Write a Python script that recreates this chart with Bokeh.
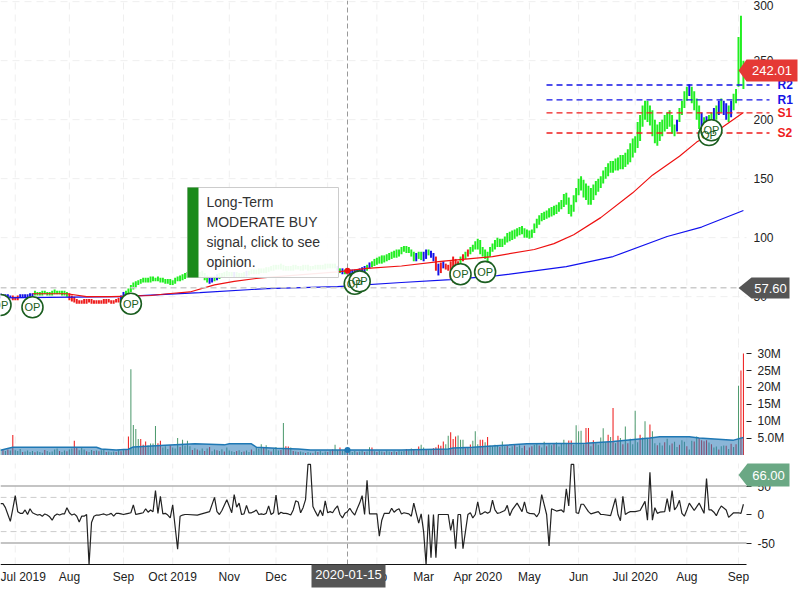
from bokeh.plotting import figure
from bokeh.embed import file_html
from bokeh.resources import INLINE
from bokeh.models import Range1d, LinearAxis, FixedTicker
from bokeh.core.properties import value

# ---------- data ----------
tick_days = [6, 28, 50, 70, 93, 112, 133, 153, 172, 194, 215, 235, 258, 279, 300]
tick_names = ["Jul 2019", "Aug", "Sep", "Oct 2019", "Nov", "Dec", "Jan", "Feb", "Mar", "Apr 2020",
              "May", "Jun", "Jul 2020", "Aug", "Sep"]
price_ticks = [50, 100, 150, 200, 250, 300]
vol_ticks = [5, 10, 15, 20, 25, 30]
vol_tick_names = ["5.0M", "10M", "15M", "20M", "25M", "30M"]
osc_ticks = [-50, 0, 50]

even_low = [49,49,49,47,49,49,50,51,51,52,51,52,52,51,47,45,44,44,45,44,44,44,45,44,45,47,51,56,60,62,
           62,63,63,62,61,60,63,64,66,68,66,67,62,62,64,66,67,67,66,66,67,69,69,70,70,72,73,73,72,72,
           73,72,73,72,73,73,73,74,74,70,69,69,69,70,71,74,76,78,79,81,83,84,88,87,80,82,80,85,80,68,
           74,72,62,70,80,84,88,90,84,80,88,92,92,96,98,101,103,100,100,108,114,116,118,120,124,128,
           118,130,140,132,128,136,142,150,155,157,158,160,164,172,182,200,195,180,182,190,194,186,
           198,210,220,208,192,188,192,198,204,204,198,208]
even_high = [53,52,51,50,52,52,53,55,54,55,54,56,55,55,53,50,47,48,48,47,47,48,48,47,49,54,57,62,64,66,
            66,67,67,66,65,64,67,69,71,72,71,72,68,67,69,70,72,71,71,70,72,73,73,74,75,76,77,78,76,76,
            77,76,77,76,77,77,78,78,78,74,73,73,73,74,76,79,82,84,85,87,89,90,93,92,88,88,88,90,87,78,
            80,77,84,80,86,90,94,99,92,88,95,100,99,104,106,108,110,107,107,116,121,123,126,128,132,138,
            128,142,152,146,142,148,152,160,165,167,170,172,180,186,204,216,212,200,198,204,208,196,
            210,224,230,224,212,202,204,210,216,216,212,222]
even_state = ("bbbrbbbggggggg" + "rrrrrrrrrrr" + "b" + "g" * 17 + "bb" + "ggggg" + "b" + "g" * 20
             + "bbbbb" + "g" * 10 + "bgbbb" + "rrrrr" + "g" * 44 + "b" + "g" * 4 + "bbb" + "gg" + "bb" + "g")
odd_low = [49,49,47,47,49,49,50,51,51,51,51,52,51,50,46,44,44,44,44,44,44,44,44,45,46,
           49,54,58,61,62,62,63,62,61,60,61,63,65,67,67,66,64,61,63,65,66,67,66,66,66,
           68,69,69,70,71,72,73,72,72,72,73,72,72,73,73,73,74,74,72,69,69,69,70,70,72,
           75,77,78,80,82,83,86,87,84,80,81,82,83,72,70,73,65,64,75,82,86,90,86,82,84,
           90,92,94,97,99,102,100,99,104,111,115,117,119,122,126,120,122,136,134,128,132,139,146,152,155,
           157,158,162,168,176,194,198,186,178,186,192,188,190,204,216,214,200,190,190,194,200,206,200,202,214]
odd_high = [52,52,51,51,52,52,53,54,55,54,55,55,55,54,51,48,47,48,48,47,47,48,47,48,51,
            55,60,63,65,66,67,66,66,65,65,66,68,70,71,72,71,70,67,68,70,71,71,71,70,71,
            72,73,74,74,75,77,77,77,76,77,76,77,77,76,77,77,78,78,76,74,72,73,73,75,77,
            80,83,85,86,88,90,92,93,90,87,88,90,89,84,79,78,80,82,84,88,92,97,98,90,92,
            98,99,101,105,107,109,108,106,112,119,122,125,127,130,137,134,136,150,149,144,145,150,157,163,165,
            168,170,175,184,198,212,216,208,196,200,206,204,200,216,228,228,218,206,203,206,212,218,214,216,226]
odd_state = ("bbrrbbb" + "g" * 7 + "r" * 10 + "b" + "g" * 17 + "b" + "g" * 4 + "b" + "gg"
             + "g" * 18 + "b" * 6 + "g" + "g" * 9 + "bgbb" + "r" * 5 + "g" * 7 + "g" * 25
             + "g" * 11 + "gbgggg" + "bb" + "ggg" + "bb" + "g")
spike_day = [300, 301, 302]
spike_low = [228, 240, 226]
spike_high = [270, 288, 250]

ma_long_day = [0, 49, 81, 108, 137, 163, 183, 202, 230, 249, 271, 285, 302]
ma_long = [49, 50, 53.4, 56.8, 58.5, 62, 64.4, 67.8, 75.4, 84, 101, 109, 123]
ma_mid_day = [13, 27, 35, 45, 61, 68, 77, 87, 95, 106, 137, 149, 163, 179, 200, 217, 225, 233, 244,
              257, 265, 276, 283, 293, 302]
ma_mid = [52.5, 52.5, 50, 50, 51, 52.5, 54, 60, 63, 66, 71, 74, 76, 80, 84, 90, 95, 102.5, 117,
          138, 153, 169, 181, 193, 206]

pivot_names = ["R2", "R1", "S1", "S2"]
pivot_values = [229.4, 216.7, 205.7, 188.7]
pivot_colors = ["#1414e6", "#1414e6", "#ee1c1c", "#ee1c1c"]

op_day = [0, 13, 53, 144, 146, 187, 197, 288, 289]
op_price = [43, 41, 44, 61, 63, 69, 71, 187, 191]

volume = [1.9,1.6,1.2,1.6,1.3,5.9,1.4,1.2,1.8,0.9,
          1.0,1.3,0.9,1.2,0.8,1.1,0.9,0.7,1.5,1.2,
          0.8,1.0,1.6,1.9,1.2,0.9,1.3,1.1,1.6,1.9,
          4.2,2.1,1.4,2.4,1.6,1.1,0.9,1.5,1.2,1.3,
          1.1,1.4,1.8,0.9,1.0,0.8,1.0,0.9,1.4,1.1,
          1.4,1.6,5.5,25.4,8.9,7.7,4.7,4.7,3.0,4.0,
          2.8,3.4,3.4,8.6,3.5,4.2,2.2,2.6,1.8,2.9,
          2.2,1.9,5.0,2.4,4.5,2.8,4.2,2.6,1.5,2.0,
          1.6,1.3,1.9,1.2,1.9,2.4,1.1,1.6,1.4,1.2,
          1.7,1.0,2.2,1.3,1.1,0.9,1.2,1.4,0.9,1.0,
          1.3,0.9,1.6,1.1,2.2,1.9,3.2,2.4,2.9,1.4,
          1.0,1.8,2.4,1.3,1.5,9.5,2.6,2.5,2.2,1.2,
          1.0,0.9,1.0,0.8,0.6,0.9,0.7,0.5,1.1,0.9,
          1.2,0.7,1.0,0.9,1.3,1.6,3.0,1.4,2.2,1.3,
          1.6,1.0,1.3,0.9,1.2,0.8,1.0,1.3,0.9,1.0,
          2.3,2.2,1.1,0.9,1.2,1.0,0.8,1.3,1.0,0.9,
          1.1,0.9,1.3,1.0,1.2,1.8,1.4,1.9,1.7,1.3,
          2.5,3.0,2.2,1.5,1.4,1.7,2.0,2.3,3.0,2.7,
          4.0,3.2,5.7,6.7,4.7,5.5,5.8,4.5,4.5,2.0,
          2.4,3.1,4.2,7.0,3.2,4.5,4.5,3.8,5.3,2.8,
          2.6,3.0,2.7,2.4,4.0,2.6,2.7,2.1,2.6,3.0,
          2.4,2.9,2.1,2.7,1.4,2.2,2.6,3.0,3.3,2.8,
          2.2,3.9,2.6,3.2,2.9,3.3,3.7,2.5,3.5,4.5,
          3.4,4.3,4.3,3.0,8.8,7.0,7.2,3.2,8.0,8.0,
          2.6,4.4,3.5,3.0,5.2,7.9,3.8,6.0,5.3,13.9,
          3.5,5.7,5.0,3.2,8.4,3.5,4.8,3.2,13.1,3.8,
          6.0,5.2,10.0,4.8,9.0,7.0,3.5,2.9,3.6,2.8,
          3.8,4.8,2.9,3.4,3.9,2.4,3.0,4.4,3.9,2.6,
          1.6,4.2,4.0,5.5,5.0,4.4,4.1,4.4,3.7,3.2,
          2.2,2.5,1.6,2.6,2.8,2.7,1.8,3.3,2.4,3.2,
          20.5,25.0,30.0]
red_volume_days = [1,3,5,9,14,18,24,27,30,31,35,38,40,43,47,49,51,52,57,58,59,64,65,69,73,78,80,83,85,88,
                   91,96,99,102,107,110,114,116,117,119,121,124,127,129,133,135,138,141,145,148,151,153,
                   156,159,161,165,168,170,173,176,177,178,179,180,183,184,185,189,191,195,196,198,203,
                   206,209,213,215,216,219,222,225,231,232,238,239,241,247,249,251,253,255,260,264,267,
                   270,273,276,279,282,284,285,286,287,289,292,295,297,299,301,302]
vol_avg_day = [0,5,39,41,47,52,54,65,79,91,93,102,104,112,121,126,163,182,184,192,203,214,238,249,264,268,
               280,284,298,302]
vol_avg = [1.4,2.3,2.3,1.8,1.5,1.7,2.4,2.8,3.3,3.0,3.3,3.3,2.3,2.0,1.8,1.5,1.5,1.8,2.1,2.3,2.8,3.3,3.5,4.0,
           5.0,5.4,5.4,5.0,4.4,5.2]

osc_day = [0,1,2,3,4,5,6,7,8,9,10,11,12,13,14,15,16,17,18,19,20,21,22,23,24,25,26,27,28,29,30,31,32,33,34,
           35,36,37,38,39,40,41,42,43,44,45,46,47,48,49,50,51,52,53,54,55,56,57,58,59,60,61,62,63,64,65,
           66,67,68,69,70,71,72,73,74,75,76,80,85,87,88,89,90,92,94,95,96,97,98,99,100,101,102,103,104,105,
           106,107,108,109,110,111,112,113,114,115,116,117,118,119,120,121,122,123,124,125,126,127,128,129,
           130,131,132,133,134,135,136,137,138,139,140,141,142,143,144,145,146,147,148,149,150,151,152,153,
           154,155,156,157,158,159,160,161,162,163,164,166,167,168,169,170,171,172,173,174,175,176,177,178,
           180,182,183,184,185,186,187,188,190,191,192,193,194,195,196,197,198,199,200,201,202,203,205,206,
           207,208,210,212,213,214,215,217,218,219,220,222,223,224,226,228,229,230,231,232,233,234,235,236,
           237,239,240,243,244,245,248,250,251,252,253,254,255,256,258,260,262,263,264,265,266,267,268,270,
           271,272,273,274,275,276,277,278,279,280,282,284,286,287,288,289,290,291,292,293,295,296,298,300,
           301,302]
osc_val = [19,19,12,0,-12,10,33,5,2,2,8,0,10,3,1,-1,0,-3,1,-1,-4,-10,-2,1,-1,1,1,12,3,-1,1,-3,-13,-3,-3,
           0,-88,-14,-3,-1,-1,0,1,-1,0,2,-3,2,2,1,0,1,2,3,17,0,1,2,3,10,4,8,5,42,2,32,
           1,2,-1,-6,17,-22,-61,-3,-1,0,0,-1,5,30,5,0,7,26,3,35,13,20,0,1,16,3,3,5,8,0,
           1,0,2,15,0,3,34,0,4,2,2,1,-1,8,24,22,3,12,26,88,88,14,5,-3,
           8,-2,24,3,5,3,10,15,0,-6,2,5,11,4,-1,10,20,33,0,60,1,1,1,1,-38,
           -10,2,2,2,11,4,8,10,1,3,1,-3,20,2,-15,1,-30,-88,0,-76,0,-76,0,0,
           0,-28,-8,-60,0,0,-60,0,3,-6,0,22,0,2,5,2,5,25,8,2,3,7,16,-2,
           8,20,5,22,4,2,1,-4,3,35,0,-55,10,6,8,4,45,15,88,88,3,2,18,18,
           5,1,5,0,0,-2,28,0,-11,32,0,3,5,5,7,23,-10,74,-10,12,2,4,5,
           28,5,42,8,14,25,2,-3,8,20,7,20,2,63,8,8,4,-2,8,15,8,-5,3,3,2,
           18,66]

# ---------- picture geometry (furniture only) ----------
def X(px): return px / 2.46
def P(y): return 301 - y / 1.18
def V(y): return (454.5 - y) / 3.38
def C(y): return (514 - y) / 0.57

FONT = value("Liberation Sans")
GREEN, BLUE, RED = "#22ee22", "#1414e6", "#ee1c1c"
state_color = {"g": GREEN, "b": BLUE, "r": RED}

p = figure(width=800, height=600, output_backend="svg", toolbar_location=None,
           x_range=Range1d(0, X(800)), y_range=Range1d(P(600), P(0)),
           x_axis_location=None, y_axis_location=None, min_border=0,
           outline_line_color=None, border_fill_color="white", background_fill_color="white")
p.grid.visible = False
p.extra_y_ranges = {"vol": Range1d(V(600), V(0)), "osc": Range1d(C(600), C(0))}

# grids
GRID = dict(line_color="#efefef", line_dash="7 5", line_width=1, level="underlay")
p.segment(x0=tick_days, x1=tick_days, y0=P(345), y1=P(0), **GRID)
p.segment(x0=tick_days, x1=tick_days, y0=V(455), y1=V(345), y_range_name="vol", **GRID)
p.segment(x0=tick_days, x1=tick_days, y0=C(564), y1=C(463), y_range_name="osc", **GRID)
p.segment(x0=0, x1=X(746), y0=price_ticks, y1=price_ticks, **GRID)

# axes
def right_axis(ticks, names, rng, standoff, tick_out):
    kw = {"y_range_name": rng} if rng else {}
    ax = LinearAxis(ticker=FixedTicker(ticks=ticks), fixed_location=X(746), axis_line_color=None,
                    major_tick_out=tick_out, major_tick_in=0, minor_tick_line_color=None,
                    major_tick_line_color="#222222", major_label_standoff=standoff,
                    major_label_text_font="Liberation Sans", major_label_text_font_size="12px",
                    major_label_text_color="#222222",
                    major_label_overrides=dict(zip(ticks, names)), **kw)
    p.add_layout(ax, "right")

right_axis(price_ticks, [str(t) for t in price_ticks], None, 7, 0)
right_axis(vol_ticks, vol_tick_names, "vol", 6, 5)
right_axis(osc_ticks, [str(t) for t in osc_ticks], "osc", 6, 5)

xax = LinearAxis(y_range_name="osc", fixed_location=C(564), bounds=(0, X(746)),
                 ticker=FixedTicker(ticks=tick_days), major_tick_out=0, major_tick_in=0,
                 minor_tick_line_color=None, axis_line_color="#111111",
                 major_label_standoff=5, major_label_text_font="Liberation Sans",
                 major_label_text_font_size="12px", major_label_text_color="#222222",
                 major_label_overrides=dict(zip(tick_days, tick_names)))
p.add_layout(xax, "below")

# price bars
BAR_W = 0.8
p.vbar(x=list(range(0, 300, 2)), bottom=even_low, top=even_high, width=BAR_W,
       color=[state_color[c] for c in even_state], line_width=0)
p.vbar(x=list(range(1, 300, 2)), bottom=odd_low, top=odd_high, width=BAR_W,
       color=[state_color[c] for c in odd_state], line_width=0)
p.vbar(x=spike_day, bottom=spike_low, top=spike_high, width=BAR_W, color=GREEN, line_width=0)

p.line(ma_long_day, ma_long, line_color="#1111ee", line_width=1.2)
p.line(ma_mid_day, ma_mid, line_color="#ee1111", line_width=1.2)

# pivot levels
for name, val, col in zip(pivot_names, pivot_values, pivot_colors):
    p.segment(x0=[X(546)], x1=[X(769)], y0=[val], y1=[val], line_color=col, line_width=1.3, line_dash="6 4")
    p.text(x=[X(777)], y=[val], text=[name], text_color=col, text_font=FONT, text_font_size=value("12px"),
           text_font_style="bold", text_baseline="middle", text_align="left")

# crosshair
p.segment(x0=[X(347)], x1=[X(347)], y0=[P(564)], y1=[P(0)], line_color="#999999", line_width=1, line_dash="5 3")
p.segment(x0=[0], x1=[X(746)], y0=[57.6], y1=[57.6], line_color="#cccccc", line_width=1.5, line_dash="6 4")
p.scatter([X(347)], [72], size=6, color="#ee1111", line_width=0)

# OP markers
p.scatter(op_day, op_price, size=21, fill_color="white", line_color="#1b5e20", line_width=1.6)
p.text(op_day, op_price, text=["OP"] * len(op_day), text_color="#1b5e20", text_font=FONT,
       text_font_size=value("11px"), text_align="center", text_baseline="middle")

# volume
bar_colors = ["#ee1c1c" if d in red_volume_days else "#4f9b6f" for d in range(len(volume))]
p.vbar(x=list(range(len(volume))), bottom=0, top=volume, width=0.42, color=bar_colors, line_width=0, y_range_name="vol")
p.varea(vol_avg_day, y1=[0] * len(vol_avg), y2=vol_avg, fill_color="#2a7ab8", fill_alpha=0.55, y_range_name="vol")
p.line(vol_avg_day, vol_avg, line_color="#1f78b4", line_width=1.5, y_range_name="vol")
p.scatter([X(347)], [1.5], size=6, color="#1f78b4", line_width=0, y_range_name="vol")

# oscillator
for lvl in (50, -50):
    p.segment(x0=[0], x1=[X(746)], y0=[lvl], y1=[lvl], line_color="#b0b0b0", line_width=1.5, y_range_name="osc")
for lvl in (30, -30):
    p.segment(x0=[0], x1=[X(746)], y0=[lvl], y1=[lvl], line_color="#cccccc", line_width=1, line_dash="6 4", y_range_name="osc")
p.line(osc_day, osc_val, line_color="#222222", line_width=1.2, y_range_name="osc")

# tooltip
p.quad(left=[X(187)], right=[X(338)], top=[P(187)], bottom=[P(277)], fill_color="white", fill_alpha=0.92,
       line_color="#cccccc", line_width=1)
p.quad(left=[X(187)], right=[X(198)], top=[P(187)], bottom=[P(277)], fill_color="#1a8a1a", line_width=0)
tip_lines = ["Long-Term", "MODERATE BUY", "signal, click to see", "opinion."]
p.text([X(206)] * 4, [P(201), P(221), P(241), P(261)], text=tip_lines, text_color="#333333", text_font=FONT,
       text_font_size=value("14px"), text_baseline="middle", text_align="left")

# value tags
def tag(left, right, top, bottom, conv, col, text, rng=None, fs="13px"):
    kw = {"y_range_name": rng} if rng else {}
    mid = (top + bottom) / 2
    xs = [X(738), X(left), X(right), X(right), X(left)]
    ys = [conv(mid), conv(top), conv(top), conv(bottom), conv(bottom)]
    r1 = p.patch(xs, ys, fill_color=col, line_width=0, **kw)
    r2 = p.text([X((left + right) / 2)], [conv(mid)], text=[text], text_color="white", text_font=FONT,
                text_font_size=value(fs), text_align="center", text_baseline="middle", **kw)
    r1.level = "overlay"
    r2.level = "overlay"

tag(746, 797, 59, 81, P, "#e53935", "242.01")
tag(751, 789, 277, 298, P, "#555555", "57.60")
tag(747, 789, 463, 486, C, "#6aa884", "66.00", "osc")

# crosshair date tag
q = p.quad(left=[X(311)], right=[X(385)], top=[C(564)], bottom=[C(587)], fill_color="#555555", line_width=0, y_range_name="osc")
t = p.text([X(348)], [C(574)], text=["2020-01-15"], text_color="white", text_font=FONT, text_font_size=value("13px"),
           text_align="center", text_baseline="middle", y_range_name="osc")
q.level = "overlay"
t.level = "overlay"

open("out.html", "w").write(file_html(p, INLINE))
